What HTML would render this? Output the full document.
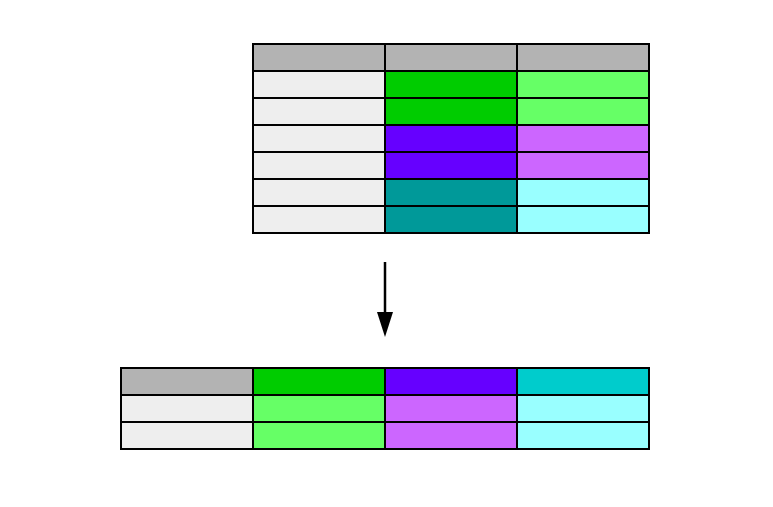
<!DOCTYPE html>
<html><head><meta charset="utf-8"><style>body{margin:0;background:#fff}svg{display:block}</style></head>
<body>
<svg width="773" height="507">
<g id="top"></g>
<g>
<line x1="385" y1="262" x2="385" y2="314" stroke="#000" stroke-width="2.5"/>
<polygon points="377,312 393,312 385,337" fill="#000"/>
</g>
<g id="bot"></g>
</svg>
<script>
const topColors = [
 ["#b3b3b3","#b3b3b3","#b3b3b3"],
 ["#eeeeee","#00cc00","#66ff66"],
 ["#eeeeee","#00cc00","#66ff66"],
 ["#eeeeee","#6600ff","#cc66ff"],
 ["#eeeeee","#6600ff","#cc66ff"],
 ["#eeeeee","#009999","#99ffff"],
 ["#eeeeee","#009999","#99ffff"]
];
const botColors = [
 ["#b3b3b3","#00cc00","#6600ff","#00cccc"],
 ["#eeeeee","#66ff66","#cc66ff","#99ffff"],
 ["#eeeeee","#66ff66","#cc66ff","#99ffff"]
];
const NS="http://www.w3.org/2000/svg";
function draw(g, colors, x0, y0, cw, rh){
  colors.forEach((row,r)=>row.forEach((c,k)=>{
    const el=document.createElementNS(NS,"rect");
    el.setAttribute("x",x0+k*cw);el.setAttribute("y",y0+r*rh);
    el.setAttribute("width",cw);el.setAttribute("height",rh);
    el.setAttribute("fill",c);el.setAttribute("stroke","#000");el.setAttribute("stroke-width","2");
    
    
    g.appendChild(el);
  }));
}
draw(document.getElementById("top"), topColors, 253, 44, 132, 27);
draw(document.getElementById("bot"), botColors, 121, 368, 132, 27);
</script>
</body></html>
